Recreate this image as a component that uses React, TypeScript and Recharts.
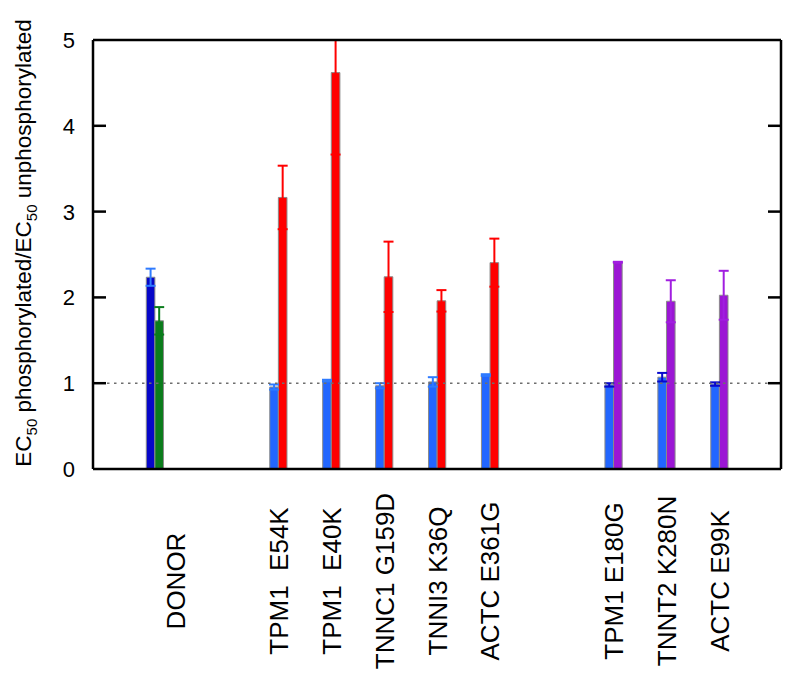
import React from 'react';
import { BarChart, Bar, XAxis, YAxis, ErrorBar, ReferenceLine, Cell } from 'recharts';

// ---- data ----
const categories = ['DONOR', 'TPM1  E54K', 'TPM1  E40K', 'TNNC1 G159D', 'TNNI3 K36Q', 'ACTC E361G', 'TPM1 E180G', 'TNNT2 K280N', 'ACTC E99K'];
const groupTypes = ['donor', 'dcm', 'dcm', 'dcm', 'dcm', 'dcm', 'hcm', 'hcm', 'hcm'];
const groupX = [0, 7, 10, 13, 16, 19, 26, 29, 32];
const labelX = [1.2, 7, 10, 13, 16, 19, 26, 29, 32];
const series1 = [2.235, 0.955, 1.03, 0.97, 1.015, 1.095, 0.98, 1.07, 0.99];
const series1Err = [0.1, 0.03, 0.01, 0.03, 0.055, 0.01, 0.02, 0.05, 0.02];
const series2 = [1.727, 3.165, 4.62, 2.24, 1.96, 2.405, 2.41, 1.955, 2.025];
const series2Err = [0.16, 0.37, 0.955, 0.41, 0.125, 0.28, 0.005, 0.245, 0.285];
const yTicks = [0, 1, 2, 3, 4, 5];
const Y_MAX = 5;

// error as [down, up], the upward part stopping at the top of the axis
const errPair = (v: number, e: number) => [e, Math.min(e, Y_MAX - v)];

const rows = categories.map((name, i) => {
  const t = groupTypes[i];
  const e1 = errPair(series1[i], series1Err[i]);
  const e2 = errPair(series2[i], series2Err[i]);
  return {
    x: groupX[i],
    name,
    type: t,
    aLight: t !== 'hcm' ? series1[i] : null,
    aLightErr: t !== 'hcm' ? e1 : null,
    aDark: t === 'hcm' ? series1[i] : null,
    aDarkErr: t === 'hcm' ? e1 : null,
    bGreen: t === 'donor' ? series2[i] : null,
    bGreenErr: t === 'donor' ? e2 : null,
    bRed: t === 'dcm' ? series2[i] : null,
    bRedErr: t === 'dcm' ? e2 : null,
    bPurple: t === 'hcm' ? series2[i] : null,
    bPurpleErr: t === 'hcm' ? e2 : null,
  };
});

// ---- styles ----
const FONT = '"Liberation Sans", Arial, Helvetica, sans-serif';
const DARK_BLUE = '#0606c8';
const LIGHT_BLUE = '#2266ff';
const ERR_LIGHT = '#2f7bff';
const ERR_DARK = '#0808cc';
const GREEN = '#0b7d1c';
const RED = '#ff0000';
const PURPLE = '#9b16d4';
const ERR_PURPLE = '#a11ee0';
const OUTLINE = '#8a8a8a';
const BAR_W = 8.6;

const labelFor = (v: number) => {
  const i = labelX.indexOf(v);
  return i >= 0 ? categories[i] : '';
};

const LeftTick = (props: any) => {
  const { x, y, payload } = props;
  return (
    <g>
      {payload.value > 0 && payload.value < 5 && (
        <line x1={x} x2={x + 13} y1={y} y2={y} stroke="#000" strokeWidth={2.5} />
      )}
      <text x={x - 18} y={y} dy={8} textAnchor="end" fontSize={22} fontFamily={FONT} fill="#000">
        {payload.value}
      </text>
    </g>
  );
};

const RightTick = (props: any) => {
  const { x, y, payload } = props;
  if (payload.value <= 0 || payload.value >= 5) return <g />;
  return <line x1={x - 13} x2={x} y1={y} y2={y} stroke="#000" strokeWidth={2.5} />;
};

const BottomTick = (props: any) => {
  const { x, y, payload } = props;
  return (
    <text
      transform={`translate(${x + 9.5}, ${y + 112}) rotate(-90)`}
      textAnchor="middle"
      fontSize={26}
      fontFamily={FONT}
      fill="#000"
      style={{ whiteSpace: 'pre' }}
    >
      {labelFor(payload.value)}
    </text>
  );
};

const YLabel = () => (
  <text transform="translate(31, 243) rotate(-90)" textAnchor="middle" fontSize={22.5} fontFamily={FONT} fill="#000">
    EC<tspan dy={6} fontSize={15}>50</tspan>
    <tspan dy={-6}> phosphorylated/EC</tspan>
    <tspan dy={6} fontSize={15}>50</tspan>
    <tspan dy={-6}> unphosphorylated</tspan>
  </text>
);

export default function App() {
  return (
    <div>
      <style>{'body{margin:0;background:#fff}'}</style>
      <BarChart
        width={800}
        height={684}
        data={rows}
        margin={{ top: 40, right: 18, left: 0, bottom: 0 }}
        barGap={0}
        barCategoryGap={0}
      >
        <XAxis
          dataKey="x"
          type="number"
          domain={[-3.5, 35.5]}
          ticks={labelX}
          interval={0}
          height={215}
          tickSize={0}
          tickMargin={0}
          tickLine={false}
          axisLine={{ stroke: '#000', strokeWidth: 2.5 }}
          tick={<BottomTick />}
          allowDataOverflow
        />
        <YAxis
          type="number"
          domain={[0, Y_MAX]}
          ticks={yTicks}
          width={93}
          tickSize={0}
          tickMargin={0}
          tickLine={false}
          axisLine={{ stroke: '#000', strokeWidth: 2.5 }}
          tick={<LeftTick />}
          allowDataOverflow
          label={{ content: () => <YLabel /> }}
        />
        <YAxis
          yAxisId="right"
          orientation="right"
          type="number"
          domain={[0, Y_MAX]}
          ticks={yTicks}
          width={1}
          tickSize={0}
          tickMargin={0}
          tickLine={false}
          axisLine={{ stroke: '#000', strokeWidth: 2.5 }}
          tick={<RightTick />}
          allowDataOverflow
        />
        <Bar dataKey="aLight" stackId="a" barSize={BAR_W} stroke={OUTLINE} strokeWidth={1} isAnimationActive={false}>
          {rows.map((r, i) => (
            <Cell key={i} fill={r.type === 'donor' ? DARK_BLUE : LIGHT_BLUE} />
          ))}
          <ErrorBar dataKey="aLightErr" width={5} stroke={ERR_LIGHT} strokeWidth={2} isAnimationActive={false} />
        </Bar>
        <Bar dataKey="aDark" stackId="a" barSize={BAR_W} fill={LIGHT_BLUE} stroke={OUTLINE} strokeWidth={1} isAnimationActive={false}>
          <ErrorBar dataKey="aDarkErr" width={5} stroke={ERR_DARK} strokeWidth={2} isAnimationActive={false} />
        </Bar>
        <Bar dataKey="bGreen" stackId="b" barSize={BAR_W} fill={GREEN} stroke={OUTLINE} strokeWidth={1} isAnimationActive={false}>
          <ErrorBar dataKey="bGreenErr" width={5} stroke={GREEN} strokeWidth={2} isAnimationActive={false} />
        </Bar>
        <Bar dataKey="bRed" stackId="b" barSize={BAR_W} fill={RED} stroke={OUTLINE} strokeWidth={1} isAnimationActive={false}>
          <ErrorBar dataKey="bRedErr" width={5} stroke={RED} strokeWidth={2} isAnimationActive={false} />
        </Bar>
        <Bar dataKey="bPurple" stackId="b" barSize={BAR_W} fill={PURPLE} stroke={OUTLINE} strokeWidth={1} isAnimationActive={false}>
          <ErrorBar dataKey="bPurpleErr" width={5} stroke={ERR_PURPLE} strokeWidth={2} isAnimationActive={false} />
        </Bar>
        <ReferenceLine y={1} stroke="#6e6e6e" strokeWidth={1.5} strokeDasharray="2.5 4.5" />
        <ReferenceLine y={Y_MAX} stroke="#000" strokeWidth={2.5} />
      </BarChart>
    </div>
  );
}
